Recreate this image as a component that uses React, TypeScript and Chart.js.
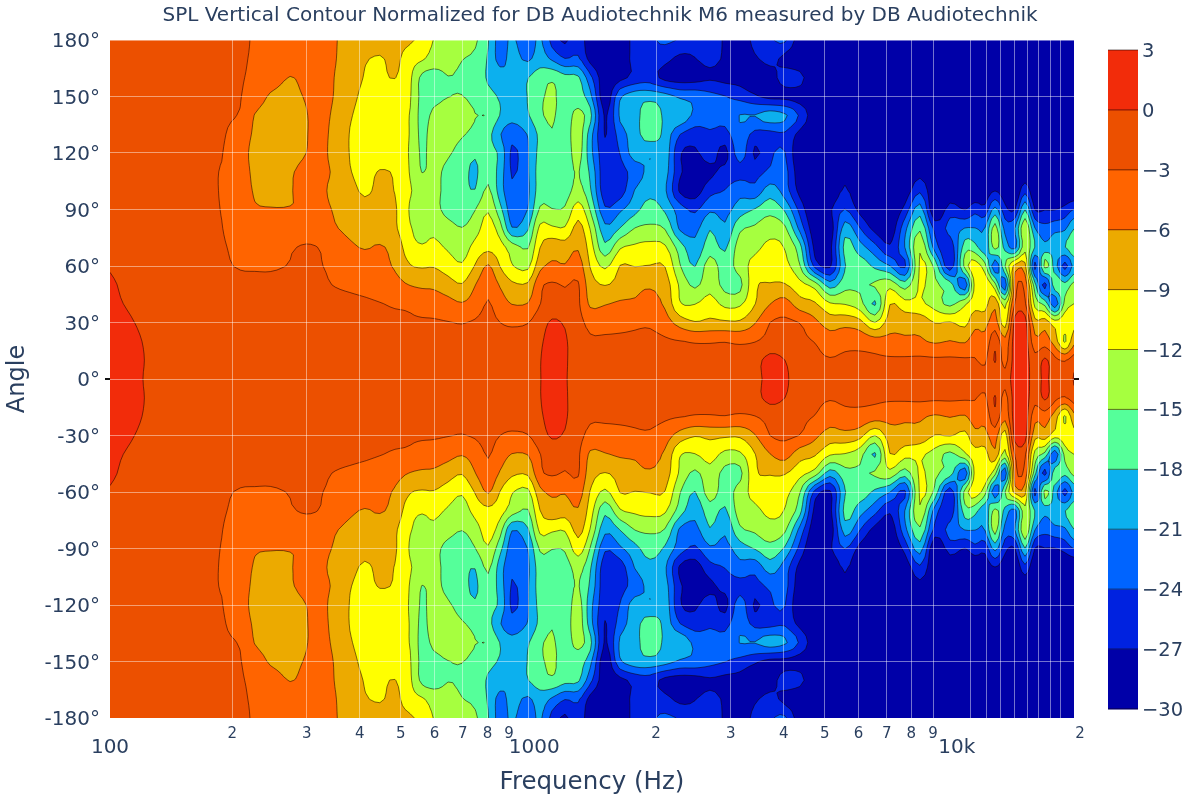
import React, { useEffect, useRef } from "react";
import { Chart, registerables } from "chart.js";

Chart.register(...registerables);

const TITLE = "SPL Vertical Contour Normalized for DB Audiotechnik M6 measured by DB Audiotechnik";
const TEXT = "#2a3f5f";
const FONT = "'DejaVu Sans', sans-serif";

const levels = [-30, -27, -24, -21, -18, -15, -12, -9, -6, -3, 0, 3];
const levelLabels = ["−30", "−27", "−24", "−21", "−18", "−15", "−12", "−9", "−6", "−3", "0", "3"];
const bandColors = ["#0000a8", "#0022e0", "#0064ff", "#0cb0ee", "#55ff9a", "#a6ff3f", "#ffff00", "#ecaa00", "#ff6400", "#ec5000", "#f22c0a"];

const gridHz = [200, 300, 400, 500, 600, 700, 800, 1000, 2000, 3000, 4000, 5000, 6000, 7000, 8000, 9000, 11000, 12000, 13000, 14000, 15000, 16000, 17000, 18000];
const minorTickHz = [200, 300, 400, 500, 600, 700, 800, 900, 2000, 3000, 4000, 5000, 6000, 7000, 8000, 9000, 20000];
const minorTickText = ["2", "3", "4", "5", "6", "7", "8", "9", "2", "3", "4", "5", "6", "7", "8", "9", "2"];
const majorTickHz = [103, 1032, 10240];
const majorTickText = ["100", "1000", "10k"];

const freqHz = [
  103, 115, 128, 147, 168, 189, 209, 226, 246, 274, 299, 322, 350, 379, 411, 446, 484,
  526, 561, 598, 646, 697, 748, 803, 857, 914, 997, 1064, 1136, 1219, 1309, 1397, 1515, 1644,
  1783, 1935, 2099, 2276, 2470, 2679, 2906, 3153, 3420, 3712, 4027, 4369, 4739, 5141, 5577, 6051, 6564,
  7121, 7725, 8381, 9093, 9864, 10700, 11300, 11930, 12600, 13300, 14040, 14830, 15650, 16520, 17440, 18420, 19350,
];

const angles = [0, 10, 20, 30, 40, 50, 60, 70, 80, 90, 100, 110, 120, 130, 140, 150, 160, 170, 180];

const spl0 = [
  1.6, 0.8, -0.4, -1.0, -1.3, -1.5, -1.5, -1.6, -1.6, -1.6, -1.6, -1.6, -1.5, -1.5, -1.5, -1.5, -1.5,
  -1.5, -1.5, -1.5, -1.5, -1.5, -1.5, -1.5, -1.4, -1.3, -1.0, -0.1, 1.0, 0.2, -1.0, -1.3, -1.5, -1.6,
  -1.7, -1.8, -1.8, -1.8, -1.8, -1.7, -1.6, -1.4, -0.9, 0.9, 0.4, -1.3, -1.8, -1.8, -1.8, -1.8, -1.8,
  -1.8, -1.8, -1.8, -1.8, -1.7, -1.6, -1.4, -1.9, -2.2, -2.0, 1.5, 1.5, -1.6, 0.7, -1.8, -2.0, 0.2,
];
const spl10 = [
  1.5, 0.8, -0.3, -1.0, -1.3, -1.5, -1.6, -1.6, -1.6, -1.6, -1.6, -1.6, -1.6, -1.6, -1.6, -1.7, -1.7,
  -1.8, -1.8, -1.8, -1.8, -1.8, -1.8, -1.7, -1.6, -1.5, -1.1, -0.1, 1.0, 0.3, -1.2, -1.6, -1.7, -1.9,
  -2.0, -2.1, -2.1, -2.2, -2.3, -2.3, -2.2, -1.9, -1.0, 0.9, 0.0, -1.7, -2.4, -2.8, -2.5, -2.5, -2.6,
  -2.6, -2.5, -2.4, -2.5, -2.5, -2.6, -2.8, -3.5, 0.3, -4.0, 1.5, 1.5, -2.0, 0.5, -2.2, -3.2, -1.5,
];
const spl20 = [
  1.3, 0.6, -0.4, -1.1, -1.4, -1.6, -1.7, -1.7, -1.7, -1.7, -1.7, -1.7, -1.7, -1.8, -1.8, -1.9, -2.0,
  -2.1, -2.1, -2.1, -2.2, -2.3, -2.1, -1.9, -2.0, -2.1, -1.6, -0.4, 0.9, 0.3, -1.5, -2.6, -2.6, -2.5,
  -2.5, -2.4, -2.6, -2.9, -3.2, -3.2, -3.1, -3.4, -3.1, -2.1, -1.8, -2.5, -3.1, -4.5, -3.9, -3.9, -4.6,
  -5.0, -5.5, -5.6, -6.4, -5.9, -6.3, -4.5, -5.0, -1.0, -5.0, 1.5, 1.5, -5.0, -4.5, -7.5, -12.4, -7.0,
];
const spl30 = [
  1.0, 0.2, -0.7, -1.2, -1.5, -1.7, -1.8, -1.8, -1.8, -1.8, -1.8, -1.8, -1.9, -2.0, -2.1, -2.2, -2.4,
  -2.7, -2.7, -2.7, -2.9, -3.1, -2.7, -2.2, -3.0, -3.4, -3.1, -1.2, 0.3, -0.3, -2.0, -3.8, -3.9, -3.8,
  -3.5, -3.4, -4.6, -7.3, -8.8, -8.3, -8.5, -8.5, -6.2, -3.0, -2.5, -3.1, -5.3, -7.4, -7.0, -8.0, -12.0,
  -7.4, -7.0, -7.0, -9.1, -8.8, -9.8, -7.0, -7.0, -4.5, -10.5, 1.2, 1.2, -8.0, -7.5, -10.5, -10.1, -10.0,
];
const spl40 = [
  0.5, -0.3, -1.0, -1.4, -1.7, -1.9, -1.9, -1.9, -1.9, -1.9, -1.9, -2.0, -2.2, -2.4, -2.6, -2.9, -3.3,
  -3.5, -4.1, -4.4, -5.0, -5.8, -4.6, -2.8, -4.6, -6.1, -5.9, -3.1, -1.5, -2.0, -2.5, -6.5, -6.2, -5.6,
  -5.6, -5.2, -6.5, -11.8, -12.1, -10.7, -12.8, -12.5, -9.1, -6.1, -4.8, -7.7, -8.7, -11.7, -12.2, -13.8, -18.4,
  -9.1, -11.0, -11.5, -13.2, -15.8, -12.5, -10.0, -10.0, -7.0, -13.0, -2.8, -2.5, -13.0, -16.0, -23.0, -14.0, -12.0,
];
const spl50 = [
  0.3, -0.7, -1.2, -1.5, -1.8, -2.1, -2.2, -2.2, -2.2, -2.2, -2.2, -2.6, -3.1, -3.4, -3.8, -4.3, -5.0,
  -6.1, -6.5, -6.6, -7.7, -8.8, -6.1, -3.9, -6.3, -8.4, -8.5, -3.7, -2.6, -3.2, -2.7, -7.6, -9.1, -7.9,
  -6.8, -6.3, -7.5, -12.5, -15.6, -13.0, -16.0, -15.8, -9.5, -8.8, -8.8, -11.0, -13.4, -19.5, -16.0, -15.5, -14.6,
  -13.0, -16.5, -11.5, -14.5, -16.5, -23.0, -11.0, -9.5, -14.0, -23.0, -4.5, -4.0, -17.0, -25.0, -16.0, -17.0, -14.0,
];
const spl60 = [
  -0.2, -1.0, -1.4, -1.8, -2.2, -2.6, -3.2, -3.3, -3.3, -2.9, -2.5, -2.9, -3.4, -3.9, -4.5, -5.3, -6.3,
  -8.8, -9.3, -9.2, -10.4, -11.6, -8.8, -5.7, -9.1, -11.8, -12.7, -6.9, -5.6, -5.8, -4.6, -9.1, -12.6, -8.9,
  -9.1, -8.9, -9.1, -14.8, -18.1, -13.5, -16.5, -13.5, -11.0, -10.3, -11.2, -14.9, -25.0, -27.5, -18.2, -16.3, -18.7,
  -20.9, -24.5, -11.5, -16.0, -26.0, -14.0, -10.5, -14.0, -23.0, -15.1, -8.0, -8.0, -25.0, -14.0, -19.5, -25.0, -20.0,
];
const spl70 = [
  -1.0, -1.3, -1.6, -1.9, -2.3, -2.8, -3.5, -3.8, -3.6, -3.2, -2.8, -3.1, -4.3, -5.5, -6.2, -5.8, -7.0,
  -10.9, -11.8, -11.3, -12.4, -13.5, -11.0, -9.8, -10.8, -13.5, -15.2, -9.1, -7.0, -7.6, -6.3, -10.4, -17.2, -12.4,
  -11.5, -11.0, -11.6, -16.5, -20.0, -16.5, -18.5, -13.5, -12.7, -11.3, -12.2, -17.0, -28.0, -28.0, -17.0, -19.8, -23.0,
  -26.5, -20.9, -12.5, -22.5, -26.0, -16.5, -17.0, -20.0, -14.0, -19.0, -22.0, -13.0, -18.1, -20.0, -18.7, -18.1, -15.5,
];
const spl80 = [
  -1.2, -1.5, -1.8, -2.1, -2.5, -2.95, -3.9, -4.2, -4.3, -4.3, -4.2, -4.6, -5.8, -6.6, -7.0, -7.3, -8.5,
  -11.8, -12.6, -12.6, -13.8, -14.9, -13.3, -10.6, -13.7, -20.8, -18.3, -11.3, -11.5, -11.7, -8.0, -12.1, -20.2, -17.9,
  -14.9, -14.5, -15.2, -21.5, -22.0, -18.2, -20.5, -15.6, -14.5, -13.2, -14.5, -22.0, -29.0, -29.0, -19.5, -23.9, -28.0,
  -29.0, -22.0, -15.5, -25.0, -23.0, -20.9, -20.9, -20.9, -13.8, -22.0, -20.9, -12.5, -20.9, -23.0, -22.0, -21.5, -18.1,
];
const spl90 = [
  -1.3, -1.6, -1.9, -2.2, -2.6, -3.05, -4.5, -5.7, -5.9, -5.9, -5.6, -5.5, -6.2, -7.1, -7.8, -7.9, -8.6,
  -12.3, -13.0, -14.0, -16.0, -16.8, -15.1, -12.3, -17.0, -22.6, -20.9, -14.6, -14.9, -14.6, -10.5, -15.1, -23.5, -21.5,
  -19.0, -16.5, -18.5, -22.5, -24.5, -21.5, -22.0, -19.5, -17.8, -16.0, -18.5, -25.0, -30.0, -27.5, -23.9, -28.0, -30.0,
  -30.0, -26.0, -19.5, -30.0, -25.5, -27.1, -25.0, -26.0, -20.0, -26.0, -27.1, -18.1, -27.1, -27.1, -27.1, -26.0, -23.9,
];
const spl100 = [
  -1.4, -1.7, -2.0, -2.3, -2.7, -3.1, -4.7, -6.2, -6.4, -6.1, -5.5, -5.7, -6.5, -7.9, -9.5, -8.3, -9.1,
  -11.8, -13.0, -14.2, -15.8, -17.0, -17.9, -14.4, -19.5, -23.4, -21.5, -16.5, -16.2, -16.3, -14.0, -17.5, -26.0, -25.5,
  -20.8, -19.0, -20.5, -27.5, -28.5, -25.0, -23.9, -22.0, -23.0, -19.5, -22.5, -28.0, -30.0, -30.0, -26.5, -30.0, -30.0,
  -30.0, -29.0, -24.5, -30.0, -29.8, -30.0, -30.0, -29.0, -27.1, -29.0, -30.0, -25.0, -30.0, -30.0, -30.0, -30.0, -30.0,
];
const spl110 = [
  -1.4, -1.7, -2.0, -2.4, -2.7, -3.1, -4.9, -6.4, -6.8, -6.2, -5.5, -5.6, -6.4, -8.8, -10.0, -8.8, -9.4,
  -12.2, -15.1, -14.0, -16.0, -17.0, -18.5, -16.0, -19.3, -24.3, -21.3, -16.6, -15.8, -16.5, -14.8, -18.5, -26.0, -25.0,
  -22.8, -20.0, -19.8, -26.5, -28.5, -27.7, -26.0, -25.0, -25.0, -23.5, -23.0, -29.0, -30.0, -30.0, -28.0, -30.0, -30.0,
  -30.0, -30.0, -28.0, -30.0, -30.0, -30.0, -30.0, -30.0, -30.0, -30.0, -30.0, -29.0, -30.0, -30.0, -30.0, -30.0, -30.0,
];
const spl120 = [
  -1.4, -1.7, -2.0, -2.4, -2.7, -2.9, -5.0, -6.6, -7.2, -6.8, -6.0, -5.5, -6.8, -9.1, -10.5, -10.6, -11.0,
  -12.2, -15.5, -13.5, -14.5, -16.5, -17.6, -17.0, -18.7, -24.6, -21.2, -17.0, -15.6, -16.8, -13.8, -19.8, -26.0, -23.9,
  -19.5, -20.9, -19.3, -26.7, -27.5, -25.5, -28.0, -22.5, -27.5, -24.5, -23.9, -30.0, -30.0, -30.0, -30.0, -30.0, -30.0,
  -30.0, -30.0, -30.0, -30.0, -30.0, -30.0, -30.0, -30.0, -30.0, -30.0, -30.0, -30.0, -30.0, -30.0, -30.0, -30.0, -30.0,
];
const spl130 = [
  -1.3, -1.6, -1.9, -2.2, -2.5, -2.7, -4.4, -6.4, -7.2, -7.0, -6.1, -5.5, -6.7, -9.1, -10.3, -10.7, -11.3,
  -12.1, -15.8, -13.3, -13.2, -14.6, -16.0, -17.0, -20.8, -22.8, -20.8, -17.2, -15.2, -16.5, -13.5, -19.5, -27.2, -22.5,
  -19.3, -16.3, -19.0, -23.9, -25.5, -24.5, -25.0, -22.0, -25.0, -25.0, -24.5, -28.0, -30.0, -30.0, -30.0, -30.0, -30.0,
  -30.0, -30.0, -30.0, -30.0, -30.0, -30.0, -30.0, -30.0, -30.0, -30.0, -30.0, -30.0, -30.0, -30.0, -30.0, -30.0, -30.0,
];
const spl140 = [
  -1.3, -1.6, -1.8, -2.1, -2.4, -2.7, -3.2, -6.1, -6.8, -6.9, -6.1, -5.4, -6.5, -8.7, -10.1, -10.7, -11.2,
  -12.1, -16.0, -14.2, -12.8, -12.8, -14.9, -15.2, -18.1, -20.0, -18.3, -15.5, -14.6, -16.3, -14.2, -17.0, -27.5, -20.5,
  -19.0, -16.3, -18.5, -18.5, -21.8, -22.5, -23.0, -20.9, -20.9, -19.5, -20.5, -24.5, -29.0, -30.0, -30.0, -30.0, -30.0,
  -30.0, -30.0, -30.0, -30.0, -30.0, -30.0, -30.0, -30.0, -30.0, -30.0, -30.0, -30.0, -30.0, -30.0, -30.0, -30.0, -30.0,
];
const spl150 = [
  -1.2, -1.5, -1.7, -2.0, -2.3, -2.6, -2.9, -4.5, -6.3, -6.6, -5.8, -5.0, -6.2, -8.0, -9.8, -10.5, -11.0,
  -11.8, -16.0, -16.0, -15.1, -14.9, -16.2, -17.2, -18.3, -19.5, -17.9, -15.5, -14.7, -16.0, -16.5, -20.0, -29.0, -21.5,
  -19.3, -19.0, -19.7, -21.5, -22.0, -23.0, -23.9, -25.0, -26.5, -28.0, -28.0, -28.5, -30.0, -30.0, -30.0, -30.0, -30.0,
  -30.0, -30.0, -30.0, -30.0, -30.0, -30.0, -30.0, -30.0, -30.0, -30.0, -30.0, -30.0, -30.0, -30.0, -30.0, -30.0, -30.0,
];
const spl160 = [
  -1.2, -1.4, -1.6, -1.9, -2.2, -2.5, -2.8, -3.6, -4.7, -6.1, -5.2, -4.8, -6.1, -7.3, -9.2, -9.7, -8.9,
  -11.5, -15.8, -16.3, -15.1, -15.5, -16.5, -18.3, -19.5, -20.6, -18.1, -16.4, -15.5, -17.0, -17.5, -23.0, -29.0, -28.0,
  -26.0, -25.5, -28.0, -28.5, -28.3, -27.5, -28.0, -28.3, -29.5, -28.5, -25.5, -26.0, -30.0, -30.0, -30.0, -30.0, -30.0,
  -30.0, -30.0, -30.0, -30.0, -30.0, -30.0, -30.0, -30.0, -30.0, -30.0, -30.0, -30.0, -30.0, -30.0, -30.0, -30.0, -30.0,
];
const spl170 = [
  -1.1, -1.3, -1.5, -1.8, -2.1, -2.4, -2.7, -3.3, -3.9, -4.5, -4.6, -4.9, -5.9, -7.2, -8.7, -9.3, -8.3,
  -10.7, -11.6, -13.3, -13.7, -14.9, -15.7, -18.3, -22.0, -20.0, -21.5, -19.5, -21.5, -23.9, -23.5, -28.0, -30.0, -29.0,
  -26.0, -25.0, -26.0, -27.8, -27.1, -26.0, -27.5, -29.0, -27.5, -26.0, -28.0, -30.0, -30.0, -30.0, -30.0, -30.0, -30.0,
  -30.0, -30.0, -30.0, -30.0, -30.0, -30.0, -30.0, -30.0, -30.0, -30.0, -30.0, -30.0, -30.0, -30.0, -30.0, -30.0, -30.0,
];
const spl180 = [
  -1.0, -1.2, -1.4, -1.7, -2.0, -2.3, -2.6, -3.2, -3.7, -4.2, -4.7, -5.3, -5.9, -6.6, -7.1, -7.6, -8.0,
  -8.6, -10.0, -12.1, -12.6, -13.5, -14.5, -17.8, -22.3, -20.5, -23.0, -20.5, -25.0, -27.5, -25.0, -29.0, -30.0, -29.0,
  -26.0, -24.5, -23.5, -24.3, -26.0, -25.0, -27.5, -29.0, -26.0, -24.5, -23.5, -29.0, -30.0, -30.0, -30.0, -30.0, -30.0,
  -30.0, -30.0, -30.0, -30.0, -30.0, -30.0, -30.0, -30.0, -30.0, -30.0, -30.0, -30.0, -30.0, -30.0, -30.0, -30.0, -30.0,
];

const halfRows = [spl0, spl10, spl20, spl30, spl40, spl50, spl60, spl70, spl80, spl90, spl100, spl110, spl120, spl130, spl140, spl150, spl160, spl170, spl180];

// The measurement is mirrored around 0°: -180° .. 180°
const rowAngles = [...angles.slice(1).reverse().map((a) => -a), ...angles];
const rowValues = [...halfRows.slice(1).reverse(), ...halfRows];

// Contour smoothing of the drawn curves (the role of Plotly's line smoothing)
const SUB = 3;
function smoothAlong(v: number[]): number[] {
  const out: number[] = [];
  for (let i = 0; i < v.length - 1; i++) {
    const p0 = v[Math.max(i - 1, 0)];
    const p1 = v[i];
    const p2 = v[i + 1];
    const p3 = v[Math.min(i + 2, v.length - 1)];
    for (let s = 0; s < SUB; s++) {
      const t = s / SUB;
      out.push(0.5 * (2 * p1 + (p2 - p0) * t + (2 * p0 - 5 * p1 + 4 * p2 - p3) * t * t + (3 * p1 - p0 - 3 * p2 + p3) * t * t * t));
    }
  }
  out.push(v[v.length - 1]);
  return out;
}
function smoothPositions(v: number[]): number[] {
  const out: number[] = [];
  for (let i = 0; i < v.length - 1; i++) {
    for (let s = 0; s < SUB; s++) out.push(v[i] + ((v[i + 1] - v[i]) * s) / SUB);
  }
  out.push(v[v.length - 1]);
  return out;
}
function smoothField(rows: number[][]): number[][] {
  const wide = rows.map(smoothAlong);
  const n = wide[0].length;
  const cols: number[][] = [];
  for (let c = 0; c < n; c++) cols.push(smoothAlong(wide.map((r) => r[c])));
  const out: number[][] = [];
  for (let r = 0; r < cols[0].length; r++) out.push(cols.map((col) => col[r]));
  return out;
}
const field = smoothField(rowValues);

const contourPlugin = {
  id: "contour",
  beforeDatasetsDraw(chart: any) {
    const { ctx, chartArea: area, scales } = chart;
    const px = smoothPositions(freqHz.map((f) => scales.x.getPixelForValue(f)));
    const py = smoothPositions(rowAngles.map((a) => scales.y.getPixelForValue(a)));
    ctx.save();
    ctx.beginPath();
    ctx.rect(area.left, area.top, area.right - area.left, area.bottom - area.top);
    ctx.clip();
    ctx.fillStyle = bandColors[0];
    ctx.fillRect(area.left, area.top, area.right - area.left, area.bottom - area.top);
    const lines: number[][] = [];
    for (let li = 1; li < levels.length - 1; li++) {
      const L = levels[li] + 0.001;
      ctx.beginPath();
      for (let r = 0; r < py.length - 1; r++) {
        for (let c = 0; c < px.length - 1; c++) {
          const cv = [field[r][c], field[r][c + 1], field[r + 1][c + 1], field[r + 1][c]];
          if (cv[0] < L && cv[1] < L && cv[2] < L && cv[3] < L) continue;
          const cx = [px[c], px[c + 1], px[c + 1], px[c]];
          const cy = [py[r], py[r], py[r + 1], py[r + 1]];
          const poly: number[][] = [];
          const cross: { p: number[]; out: boolean }[] = [];
          for (let k = 0; k < 4; k++) {
            const n = (k + 1) % 4;
            const ai = cv[k] >= L;
            const bi = cv[n] >= L;
            if (ai) poly.push([cx[k], cy[k]]);
            if (ai !== bi) {
              const t = (L - cv[k]) / (cv[n] - cv[k]);
              const p = [cx[k] + t * (cx[n] - cx[k]), cy[k] + t * (cy[n] - cy[k])];
              poly.push(p);
              cross.push({ p, out: ai });
            }
          }
          if (poly.length > 2) {
            ctx.moveTo(poly[0][0], poly[0][1]);
            for (let i = 1; i < poly.length; i++) ctx.lineTo(poly[i][0], poly[i][1]);
            ctx.closePath();
          }
          for (let i = 0; i < cross.length; i++) {
            if (cross[i].out) {
              const nx = cross[(i + 1) % cross.length];
              lines.push([cross[i].p[0], cross[i].p[1], nx.p[0], nx.p[1]]);
            }
          }
        }
      }
      ctx.fillStyle = bandColors[li];
      ctx.fill();
    }
    ctx.beginPath();
    for (const s of lines) {
      ctx.moveTo(s[0], s[1]);
      ctx.lineTo(s[2], s[3]);
    }
    ctx.strokeStyle = "rgba(20,0,0,0.6)";
    ctx.lineWidth = 0.9;
    ctx.stroke();
    ctx.restore();
  },
  afterDraw(chart: any) {
    const { ctx, chartArea: area, scales } = chart;
    ctx.save();
    // title, centred on the page rather than on the plot
    ctx.fillStyle = TEXT;
    ctx.textAlign = "center";
    ctx.textBaseline = "middle";
    ctx.font = `20px ${FONT}`;
    ctx.fillText(TITLE, 600, 16);
    // x tick labels
    ctx.font = `15px ${FONT}`;
    minorTickHz.forEach((f, i) => ctx.fillText(minorTickText[i], scales.x.getPixelForValue(f), 734));
    ctx.font = `20px ${FONT}`;
    majorTickHz.forEach((f, i) => ctx.fillText(majorTickText[i], scales.x.getPixelForValue(f), 748));
    // y tick labels
    ctx.textAlign = "right";
    scales.y.ticks.forEach((t: any) => ctx.fillText(`${t.value}°`, area.left - 10, scales.y.getPixelForValue(t.value) + 2));
    // zero line stubs
    const y0 = scales.y.getPixelForValue(0);
    ctx.fillStyle = "#111";
    ctx.fillRect(area.left - 5, y0 - 1, 5, 2);
    ctx.fillRect(area.right, y0 - 1, 5, 2);
    // colour bar
    const barLeft = 1108;
    const barWidth = 30;
    const barTop = 50;
    const step = 59.9;
    const yOf = (i: number) => barTop + (levels.length - 1 - i) * step;
    bandColors.forEach((col, i) => {
      ctx.fillStyle = col;
      ctx.fillRect(barLeft, yOf(i + 1), barWidth, step + 0.5);
    });
    ctx.strokeStyle = "rgba(20,0,0,0.55)";
    ctx.lineWidth = 1;
    ctx.fillStyle = TEXT;
    ctx.textAlign = "left";
    ctx.font = `19.5px ${FONT}`;
    levels.forEach((_, i) => {
      const y = yOf(i);
      ctx.beginPath();
      ctx.moveTo(barLeft, y);
      ctx.lineTo(barLeft + barWidth, y);
      ctx.stroke();
      ctx.fillText(levelLabels[i], barLeft + barWidth + 4, y + 2);
    });
    ctx.restore();
  },
};

export default function App() {
  const ref = useRef<HTMLCanvasElement>(null);
  useEffect(() => {
    document.body.style.margin = "0";
    const points: { x: number; y: number }[] = [];
    rowAngles.forEach((a) => freqHz.forEach((f) => points.push({ x: f, y: a })));
    const chart = new Chart(ref.current as HTMLCanvasElement, {
      type: "scatter",
      data: { datasets: [{ data: points, pointRadius: 0, showLine: false }] },
      plugins: [contourPlugin],
      options: {
        animation: false,
        responsive: false,
        layout: { padding: { left: 0, right: 126, top: 40, bottom: 0 } },
        plugins: {
          legend: { display: false },
          tooltip: { enabled: false },
          title: { display: false },
        },
        scales: {
          x: {
            type: "logarithmic",
            min: 103,
            max: 19350,
            grid: { color: "rgba(255,255,255,0.45)", lineWidth: 1, z: 1, drawTicks: false },
            border: { display: false },
            ticks: { display: false, autoSkip: false },
            afterBuildTicks: (s: any) => {
              s.ticks = gridHz.map((value) => ({ value }));
            },
            afterFit: (s: any) => {
              s.height = 82;
            },
            title: {
              display: true,
              text: "Frequency (Hz)",
              color: TEXT,
              font: { family: FONT, size: 24.5 },
              padding: { top: 0, bottom: 3 },
            },
          },
          y: {
            type: "linear",
            min: -180,
            max: 180,
            grid: { color: "rgba(255,255,255,0.45)", lineWidth: 1, z: 1, drawTicks: false },
            border: { display: false },
            ticks: { display: false, stepSize: 30 },
            afterFit: (s: any) => {
              s.width = 110;
            },
            title: {
              display: true,
              text: "Angle",
              color: TEXT,
              font: { family: FONT, size: 24 },
              padding: { top: 3, bottom: 0 },
            },
          },
        },
      },
    } as any);
    return () => chart.destroy();
  }, []);
  return <canvas ref={ref} width={1200} height={800} style={{ display: "block" }} />;
}
